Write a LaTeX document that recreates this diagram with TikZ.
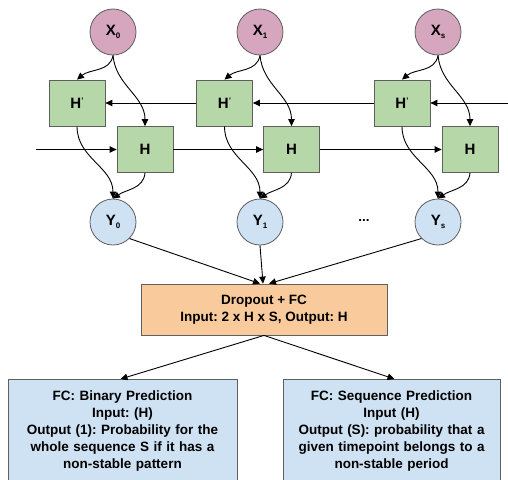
\documentclass[tikz,border=0pt]{standalone}
\usepackage{fontspec}
\setmainfont{Liberation Sans}
\usetikzlibrary{arrows.meta,calc}
\definecolor{xpink}{HTML}{D5A6BD}
\definecolor{hgreen}{HTML}{B6D7A8}
\definecolor{yblue}{HTML}{CFE2F3}
\definecolor{dorange}{HTML}{F9CB9C}
\definecolor{edgegray}{HTML}{5F5F5F}
\newcommand{\lowidx}[1]{\raisebox{-2.5pt}{\fontsize{8}{8}\selectfont #1}}
\newcommand{\tick}{\raisebox{5pt}{\fontsize{8}{8}\selectfont '}}
\frenchspacing
\begin{document}
\begin{tikzpicture}[x=1pt,y=-1pt,
  font=\fontsize{13.5}{17}\selectfont\bfseries\frenchspacing,
  every node/.style={inner sep=0pt},
  lbl/.style={font=\fontsize{15}{17}\selectfont\bfseries},
  xnode/.style={lbl,circle,draw=edgegray,fill=xpink,minimum size=46pt,line width=0.8pt},
  ynode/.style={lbl,circle,draw=edgegray,fill=yblue,minimum size=46pt,line width=0.8pt},
  hbox/.style={lbl,rectangle,draw=edgegray,fill=hgreen,minimum width=56pt,minimum height=46pt,line width=0.8pt},
  dbox/.style={rectangle,draw=edgegray,fill=dorange,minimum width=246pt,minimum height=51pt,line width=0.8pt,align=center},
  outbox/.style={rectangle,draw=edgegray,fill=yblue,line width=0.8pt,align=center,anchor=north,inner xsep=4pt,inner ysep=11pt},
  link/.style={draw=black,line width=0.9pt,-{Triangle[length=7pt,width=6.5pt]}}
]
\useasboundingbox (0,0) rectangle (508,479);

% inputs
\node[xnode] (X0) at (113,32) {X\lowidx{0}};
\node[xnode] (X1) at (260,32) {X\lowidx{1}};
\node[xnode] (Xs) at (438,32) {X\lowidx{s}};

% backward hidden
\node[hbox] (Hp0) at (77,103) {H\tick};
\node[hbox] (Hp1) at (224.5,103) {H\tick};
\node[hbox] (Hps) at (402,103) {H\tick};

% forward hidden
\node[hbox] (H0) at (145,149.5) {H};
\node[hbox] (H1) at (291.5,149.5) {H};
\node[hbox] (Hs) at (470,149.5) {H};

% outputs
\node[ynode] (Y0) at (113,222) {Y\lowidx{0}};
\node[ynode] (Y1) at (260,222) {Y\lowidx{1}};
\node[ynode] (Ys) at (438,222) {Y\lowidx{s}};
\node (dots) at (364,220) {...};

\node[dbox] (drop) at (264,309.5) {Dropout + FC\\Input: 2 x H x S, Output: H};

\node[outbox,text width=221pt] (bl) at (122.5,379) {FC: Binary Prediction\\Input: (H)\\Output (1): Probability for the\\whole sequence S if it has a\\non-stable pattern};
\node[outbox,text width=209pt] (br) at (391.5,379) {FC: Sequence Prediction\\Input (H)\\Output (S): probability that a\\given timepoint belongs to a\\non-stable period};

\coordinate (lin) at (36,149.5);
\coordinate (rin) at (508,103);

% horizontal recurrences
\draw[link] (lin) -- (H0.west);
\draw[link] (H0.east) -- (H1.west);
\draw[link] (H1.east) -- (Hs.west);
\draw[link] (rin) -- (Hps.east);
\draw[link] (Hps.west) -- (Hp1.east);
\draw[link] (Hp1.west) -- (Hp0.east);

% curves per timestep
\foreach \i in {0,1,s}{
  \draw[link] (X\i.south) to[out=-100,in=40] (Hp\i.north);
  \draw[link] (X\i.south) to[out=-85,in=90] (H\i.north);
  \draw[link] (Hp\i.south) to[out=-90,in=90] (Y\i.north);
  \draw[link] (H\i.south) to[out=-95,in=35] (Y\i.north);
}

% to dropout
\draw[link] (Y0.-45) -- ($(drop.north)+(-4,0)$);
\draw[link] (Y1.south) -- ($(drop.north)+(-1,0)$);
\draw[link] (Ys.-135) -- ($(drop.north)+(5,0)$);

% to heads
\draw[link] (drop.south) -- ($(bl.north)+(-2,0)$);
\draw[link] (drop.south) -- ($(br.north)+(3,0)$);
\end{tikzpicture}
\end{document}
